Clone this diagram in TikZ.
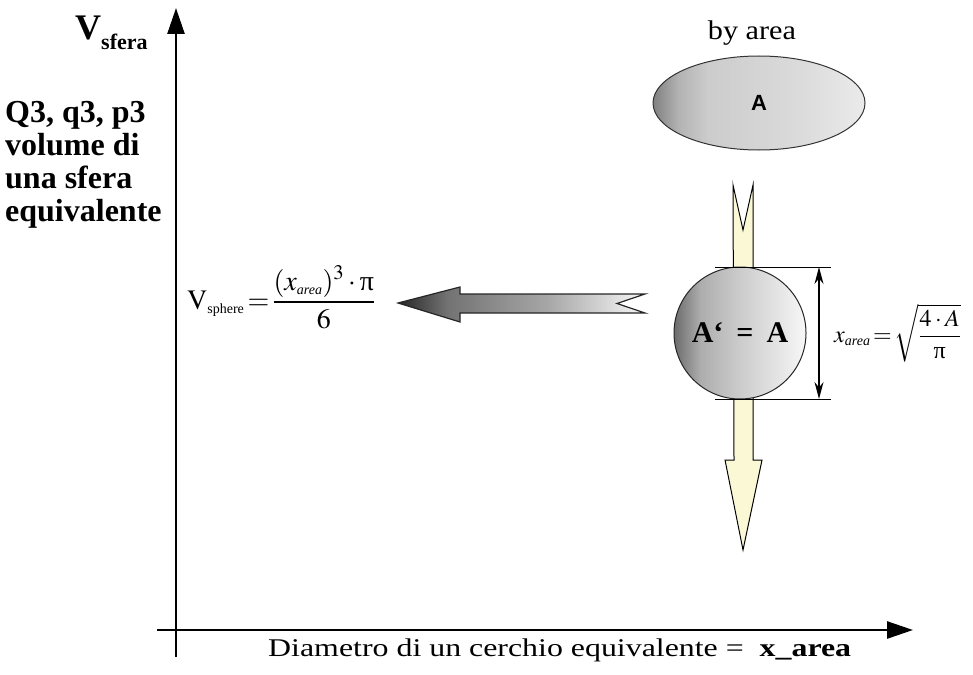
\documentclass[tikz,border=0pt]{standalone}
\usepackage{amsmath}
\usepackage{mathptmx}
\usepackage[no-math]{fontspec}
\setmainfont{Liberation Serif}
\newfontfamily\sansf{Liberation Sans}
\usetikzlibrary{arrows.meta,shapes.geometric}
\definecolor{paleyellow}{RGB}{251,248,214}
\pgfdeclarehorizontalshading{ellshade}{100bp}{color(0bp)=(black!50); color(25bp)=(black!50);
  color(31bp)=(black!30); color(38bp)=(black!20); color(60bp)=(black!14); color(75bp)=(black!8); color(100bp)=(black!8)}
\pgfdeclarehorizontalshading{ballshade}{100bp}{color(0bp)=(black!58); color(25bp)=(black!58);
  color(35bp)=(black!32); color(50bp)=(black!20); color(65bp)=(black!10); color(75bp)=(black!3); color(100bp)=(black!3)}
\pgfdeclarehorizontalshading{arrowshade}{100bp}{color(0bp)=(black!85); color(25bp)=(black!85);
  color(35bp)=(black!55); color(55bp)=(black!35); color(75bp)=(black!3); color(100bp)=(black!3)}
\newcommand{\smallsub}[2]{\mbox{\fontsize{#1}{#1}\selectfont #2}}
\newcommand{\uppi}{\mbox{π}}
\tikzset{
  axisline/.style={line width=2.6pt,-{Triangle[length=26pt,width=17pt]}},
  dimline/.style={line width=0.8pt},
  dimarrow/.style={line width=1.3pt,{Stealth[length=17pt,width=9pt]}-{Stealth[length=17pt,width=9pt]}},
  plain/.style={inner sep=0pt}
}
\begin{document}
\begin{tikzpicture}[x=1pt,y=-1pt]
\useasboundingbox (0,0) rectangle (973,674);
% axes
\coordinate (yb) at (176,657);
\coordinate (yt) at (176,8);
\coordinate (xa) at (157,630);
\coordinate (xb) at (913,630);
\draw[axisline] (yb) -- (yt);
\draw[axisline] (xa) -- (xb);
% axis labels
\node[plain,anchor=base west] (vs) at (75,40)
  {\fontsize{36}{36}\selectfont\bfseries V\raisebox{-10pt}{\fontsize{22}{22}\selectfont sfera}};
\node[plain,anchor=north west,align=left,font=\fontsize{32}{33}\selectfont\bfseries] (q3) at (5,101)
  {Q3, q3, p3\\volume di\\una sfera\\equivalente};
\node[plain,anchor=base west] (xlab) at (268,656)
  {\fontsize{25.5}{28}\selectfont\scalebox{1.25}[1]{Diametro di un cerchio equivalente =~~\textbf{x\_area}}};
% top ellipse
\node[plain] (ba) at (752,33) {\fontsize{27}{30}\selectfont\scalebox{1.12}[1]{by area}};
\node[ellipse,draw=black!80,line width=1pt,minimum width=212pt,minimum height=94pt,
      shading=ellshade] (ell) at (759,103)
  {\sansf\bfseries\fontsize{22}{24}\selectfont A};
% left grey arrow
\shadedraw[shading=arrowshade,draw=black!85,line width=1.2pt]
  (398,303) -- (460,287) -- (460,294) -- (645,294) -- (617,303.5) -- (645,313)
  -- (460,313) -- (460,322) -- cycle;
% yellow vertical arrow
\filldraw[fill=paleyellow,draw=black,line width=1pt]
  (733,185) -- (743,230) -- (753,185) -- (753,460) -- (762,460) -- (743,550)
  -- (725,460) -- (734,460) -- cycle;
% circle
\node[circle,draw=black!85,line width=1pt,minimum size=132pt,
      shading=ballshade] (circ) at (740,333)
  {\fontsize{30}{32}\selectfont\bfseries A‘\hspace{13pt}=\hspace{13pt}A};
% dimension
\coordinate (t1) at (715,267); \coordinate (t2) at (831,267);
\coordinate (b1) at (715,399); \coordinate (b2) at (831,399);
\coordinate (da) at (819,267); \coordinate (db) at (819,399);
\draw[dimline] (t1) -- (t2);
\draw[dimline] (b1) -- (b2);
\draw[dimarrow] (da) -- (db);
% formulas
\node[plain,anchor=base west] (fv) at (187,309)
  {\fontsize{28}{32}\selectfont $\mathrm{V}_{\smallsub{14}{sphere}}\,{=}\,\dfrac{(x_{\smallsub{14}{\itshape area}})^3\cdot\uppi}{6}$};
\node[plain,anchor=west] (fx) at (834,333)
  {\fontsize{24}{28}\selectfont $x_{\smallsub{14}{\itshape area}}\,{=}\,\sqrt{\dfrac{4\cdot A}{\uppi}}$};
\end{tikzpicture}
\end{document}
